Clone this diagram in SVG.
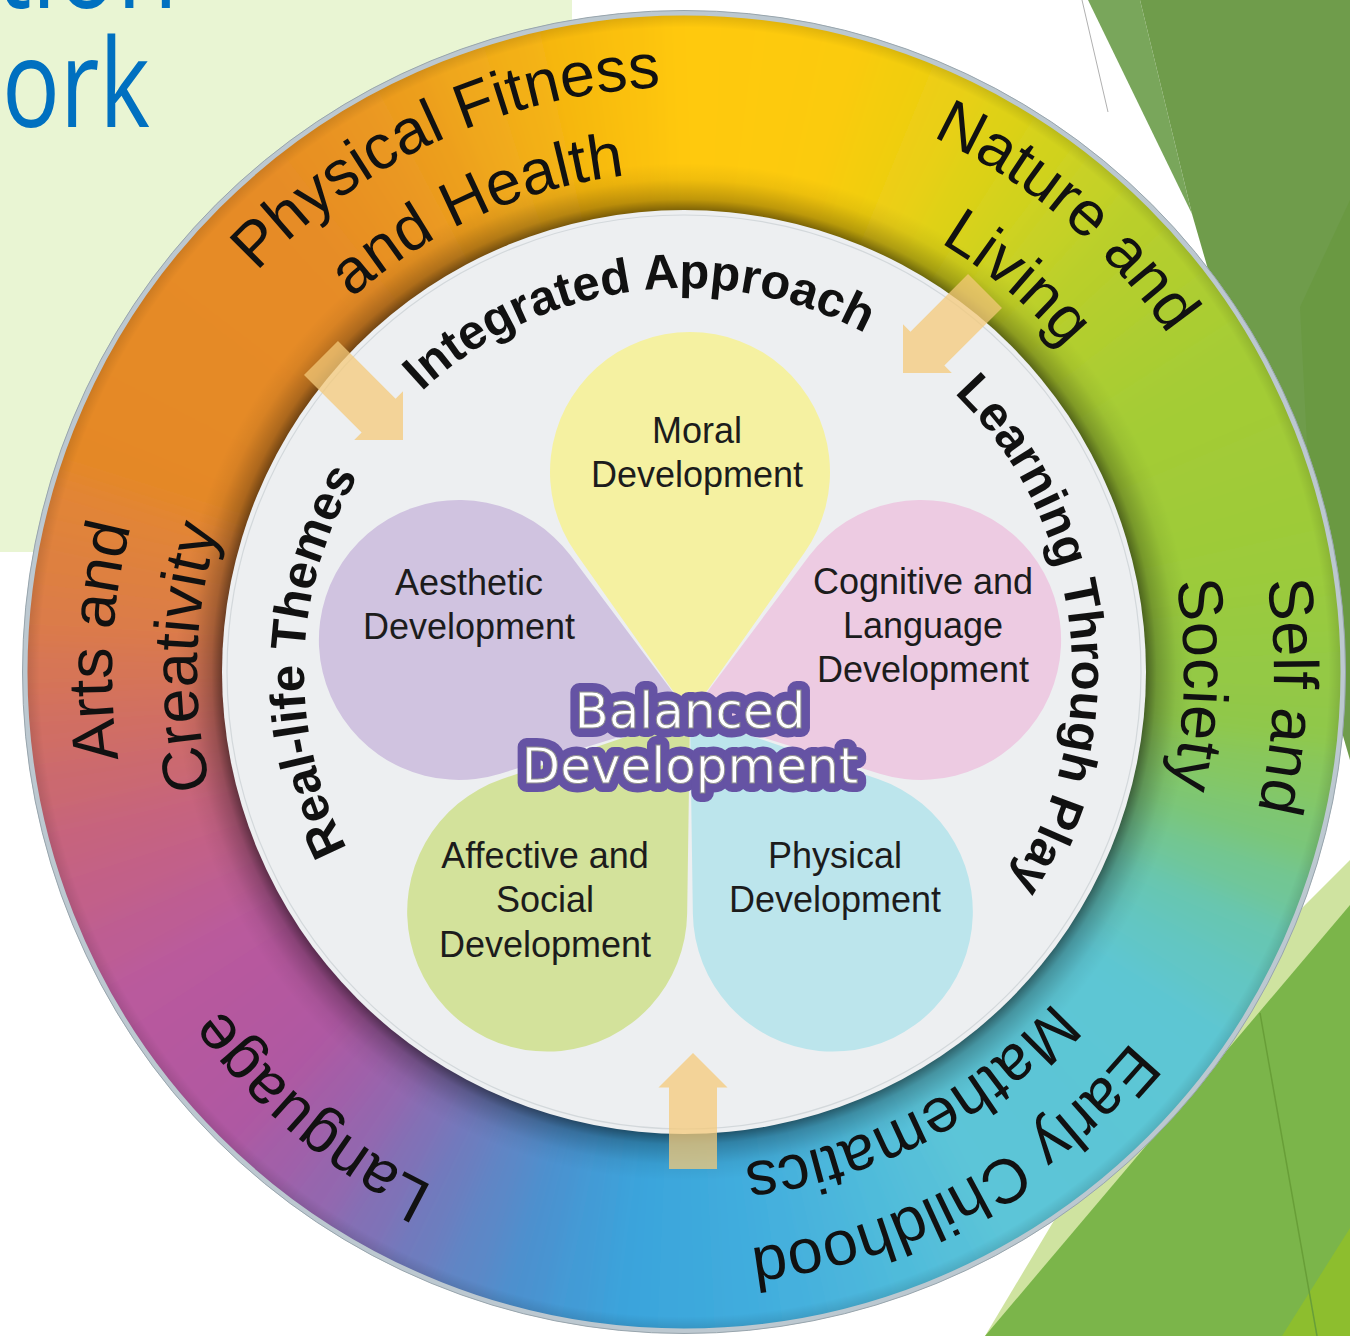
<svg xmlns="http://www.w3.org/2000/svg" xmlns:xlink="http://www.w3.org/1999/xlink" width="1350" height="1336" viewBox="0 0 1350 1336">
<style>
.ring{font-family:"Liberation Sans",Arial,sans-serif;font-size:63px;fill:#111}
.inner{font-family:"Liberation Sans",Arial,sans-serif;font-size:49px;font-weight:bold;fill:#111}
.pl{font-family:"Liberation Sans",Arial,sans-serif;font-size:36px;fill:#1c1c1c;text-anchor:middle}
.bd{font-family:"DejaVu Sans",sans-serif;font-size:50px;text-anchor:middle}
.arrow{fill:#F4CA7A;opacity:0.75}
</style>
<defs>
<path id="w" d="M0,0 L-33,-699.2 A700,700 0 0 1 33,-699.2 Z"/>
<path id="petal" d="M0,0 L-114.4,-162.3 A140,140 0 1 1 114.4,-162.3 Z"/>
<path id="arr" d="M0,0 L34.5,34.5 L24,34.5 L24,116 L-24,116 L-24,34.5 L-34.5,34.5 Z"/>
<filter id="bl" x="-10%" y="-10%" width="120%" height="120%"><feGaussianBlur stdDeviation="16"/></filter>
<clipPath id="cc"><circle cx="684" cy="672" r="661"/></clipPath>
<radialGradient id="rs" gradientUnits="userSpaceOnUse" cx="684" cy="672" r="661">
<stop offset="0.699" stop-color="#000" stop-opacity="0.5"/>
<stop offset="0.715" stop-color="#000" stop-opacity="0.25"/>
<stop offset="0.745" stop-color="#000" stop-opacity="0.06"/>
<stop offset="0.77" stop-color="#000" stop-opacity="0"/>
<stop offset="0.975" stop-color="#000" stop-opacity="0"/>
<stop offset="1" stop-color="#000" stop-opacity="0.15"/>
</radialGradient>
<path id="c590" d="M684,1262 A590,590 0 1 1 684,82 A590,590 0 1 1 684,1262"/>
<path id="c585" d="M684,1257 A585,585 0 1 1 684,87 A585,585 0 1 1 684,1257"/>
<path id="c580" d="M684,1252 A580,580 0 1 1 684,92 A580,580 0 1 1 684,1252"/>
<path id="c572" d="M684,1244 A572,572 0 1 1 684,100 A572,572 0 1 1 684,1244"/>
<path id="c500" d="M684,1172 A500,500 0 1 1 684,172 A500,500 0 1 1 684,1172"/>
<path id="c495" d="M684,1167 A495,495 0 1 1 684,177 A495,495 0 1 1 684,1167"/>
<path id="c487" d="M684,1159 A487,487 0 1 1 684,185 A487,487 0 1 1 684,1159"/>
<path id="c388" d="M684,1060 A388,388 0 1 1 684,284 A388,388 0 1 1 684,1060"/>
<path id="c384" d="M684,1056 A384,384 0 1 1 684,288 A384,384 0 1 1 684,1056"/>
<path id="c380" d="M684,1052 A380,380 0 1 1 684,292 A380,380 0 1 1 684,1052"/>
</defs>

<rect width="1350" height="1336" fill="#fff"/>

<g id="background">
<rect x="0" y="0" width="572" height="552" fill="#E9F5D3"/>
<text x="-4" y="8" font-family="Open Sans,Liberation Sans,sans-serif" font-size="122" fill="#0070C0" textLength="182" lengthAdjust="spacingAndGlyphs">tion</text>
<text x="2" y="127" font-family="Open Sans,Liberation Sans,sans-serif" font-size="122" fill="#0070C0" textLength="148" lengthAdjust="spacingAndGlyphs">ork</text>
<polygon points="1088,0 1140,0 1192,214" fill="#79A65B"/>
<polygon points="1140,0 1350,0 1350,760 1192,214" fill="#6F9C4B"/>
<polygon points="1300,307 1350,200 1350,700 1320,700" fill="#6A9942"/>
<line x1="1082" y1="0" x2="1108" y2="112" stroke="#B0B0B0" stroke-width="1"/>
<polygon points="1150,1060 1350,860 1350,1336 985,1336" fill="#CFE3A0"/>
<polygon points="985,1336 1350,905 1350,1336" fill="#7BB54A"/>
<polygon points="1282,1336 1350,1228 1350,1336" fill="#8DBE2E"/>
<line x1="1260" y1="1013" x2="1317" y2="1336" stroke="#689E38" stroke-width="1.5"/>
</g>

<g id="ring">
<g clip-path="url(#cc)">
<g transform="translate(684,672)" filter="url(#bl)">
<use href="#w" fill="#FFC90A"/>
<use href="#w" transform="rotate(5)" fill="#FEC90A"/>
<use href="#w" transform="rotate(10)" fill="#FDCA09"/>
<use href="#w" transform="rotate(15)" fill="#FBCB08"/>
<use href="#w" transform="rotate(20)" fill="#F3CD0D"/>
<use href="#w" transform="rotate(25)" fill="#EACF12"/>
<use href="#w" transform="rotate(30)" fill="#DED118"/>
<use href="#w" transform="rotate(35)" fill="#D2D21F"/>
<use href="#w" transform="rotate(40)" fill="#C6D125"/>
<use href="#w" transform="rotate(45)" fill="#B9CF2A"/>
<use href="#w" transform="rotate(50)" fill="#B2CE2E"/>
<use href="#w" transform="rotate(55)" fill="#ABCD31"/>
<use href="#w" transform="rotate(60)" fill="#A5CC35"/>
<use href="#w" transform="rotate(65)" fill="#A3CC36"/>
<use href="#w" transform="rotate(70)" fill="#A1CB37"/>
<use href="#w" transform="rotate(75)" fill="#9ECB39"/>
<use href="#w" transform="rotate(80)" fill="#9CCB3A"/>
<use href="#w" transform="rotate(85)" fill="#98CA3F"/>
<use href="#w" transform="rotate(90)" fill="#94C944"/>
<use href="#w" transform="rotate(95)" fill="#90C84A"/>
<use href="#w" transform="rotate(100)" fill="#86C760"/>
<use href="#w" transform="rotate(105)" fill="#7CC676"/>
<use href="#w" transform="rotate(110)" fill="#71C695"/>
<use href="#w" transform="rotate(115)" fill="#66C6B4"/>
<use href="#w" transform="rotate(120)" fill="#62C6C4"/>
<use href="#w" transform="rotate(125)" fill="#5DC6D3"/>
<use href="#w" transform="rotate(130)" fill="#5DC6D4"/>
<use href="#w" transform="rotate(135)" fill="#5CC6D5"/>
<use href="#w" transform="rotate(140)" fill="#5CC5D6"/>
<use href="#w" transform="rotate(145)" fill="#5BC5D7"/>
<use href="#w" transform="rotate(150)" fill="#5BC5D8"/>
<use href="#w" transform="rotate(155)" fill="#56C0D9"/>
<use href="#w" transform="rotate(160)" fill="#50BBDA"/>
<use href="#w" transform="rotate(165)" fill="#4BB5DC"/>
<use href="#w" transform="rotate(170)" fill="#45B0DD"/>
<use href="#w" transform="rotate(175)" fill="#41ACDD"/>
<use href="#w" transform="rotate(180)" fill="#3EA8DC"/>
<use href="#w" transform="rotate(185)" fill="#3AA4DC"/>
<use href="#w" transform="rotate(190)" fill="#439BD6"/>
<use href="#w" transform="rotate(195)" fill="#4C91CF"/>
<use href="#w" transform="rotate(200)" fill="#5D87C6"/>
<use href="#w" transform="rotate(205)" fill="#6E7CBE"/>
<use href="#w" transform="rotate(210)" fill="#8171B6"/>
<use href="#w" transform="rotate(215)" fill="#9466AE"/>
<use href="#w" transform="rotate(220)" fill="#A25FA8"/>
<use href="#w" transform="rotate(225)" fill="#AF58A2"/>
<use href="#w" transform="rotate(230)" fill="#B359A0"/>
<use href="#w" transform="rotate(235)" fill="#B6599E"/>
<use href="#w" transform="rotate(240)" fill="#B95A9D"/>
<use href="#w" transform="rotate(245)" fill="#BD5D93"/>
<use href="#w" transform="rotate(250)" fill="#C26188"/>
<use href="#w" transform="rotate(255)" fill="#C6647E"/>
<use href="#w" transform="rotate(260)" fill="#CB6970"/>
<use href="#w" transform="rotate(265)" fill="#D06E63"/>
<use href="#w" transform="rotate(270)" fill="#D67556"/>
<use href="#w" transform="rotate(275)" fill="#DB7C48"/>
<use href="#w" transform="rotate(280)" fill="#DE8040"/>
<use href="#w" transform="rotate(285)" fill="#E18437"/>
<use href="#w" transform="rotate(290)" fill="#E48828"/>
<use href="#w" transform="rotate(295)" fill="#E58927"/>
<use href="#w" transform="rotate(300)" fill="#E58A26"/>
<use href="#w" transform="rotate(305)" fill="#E58A26"/>
<use href="#w" transform="rotate(310)" fill="#E68B25"/>
<use href="#w" transform="rotate(315)" fill="#E68B25"/>
<use href="#w" transform="rotate(320)" fill="#E68C25"/>
<use href="#w" transform="rotate(325)" fill="#E89123"/>
<use href="#w" transform="rotate(330)" fill="#EA9720"/>
<use href="#w" transform="rotate(335)" fill="#EC9E1E"/>
<use href="#w" transform="rotate(340)" fill="#F0A81A"/>
<use href="#w" transform="rotate(345)" fill="#F3B016"/>
<use href="#w" transform="rotate(350)" fill="#F7B911"/>
<use href="#w" transform="rotate(355)" fill="#FBC10E"/>
</g>
</g>
<circle cx="684" cy="672" r="661" fill="url(#rs)"/>
<circle cx="684" cy="672" r="659" fill="none" stroke="#BCC8D0" stroke-width="5"/>
<circle cx="684" cy="672" r="661.5" fill="none" stroke="#98A5AD" stroke-width="1"/>
<circle cx="684" cy="672" r="462" fill="#EDEFF1"/>
<circle cx="684" cy="672" r="457" fill="none" stroke="#D3D8DB" stroke-width="1.2"/>
</g>

<g id="ring-labels" class="ring">
<text><textPath href="#c585" startOffset="43.17%" text-anchor="middle">Physical Fitness</textPath></text>
<text><textPath href="#c500" startOffset="43.28%" text-anchor="middle">and Health</textPath></text>
<text><textPath href="#c590" startOffset="61.11%" text-anchor="middle">Nature and</textPath></text>
<text><textPath href="#c500" startOffset="61.17%" text-anchor="middle">Living</textPath></text>
<text><textPath href="#c590" startOffset="75.64%" text-anchor="middle">Self and</textPath></text>
<text><textPath href="#c500" startOffset="75.39%" text-anchor="middle">Society</textPath></text>
<text><textPath href="#c580" startOffset="92.08%" text-anchor="middle">Early Childhood</textPath></text>
<text><textPath href="#c495" startOffset="92.33%" text-anchor="middle">Mathematics</textPath></text>
<text><textPath href="#c572" startOffset="11.11%" text-anchor="middle">Language</textPath></text>
<text><textPath href="#c572" startOffset="25.83%" text-anchor="middle">Arts and</textPath></text>
<text><textPath href="#c487" startOffset="25.47%" text-anchor="middle">Creativity</textPath></text>
</g>

<g id="approach-labels" class="inner">
<text><textPath href="#c384" startOffset="47.92%" text-anchor="middle">Integrated Approach</textPath></text>
<text><textPath href="#c388" startOffset="73.19%" text-anchor="middle">Learning Through Play</textPath></text>
<text><textPath href="#c380" startOffset="25.47%" text-anchor="middle">Real-life Themes</textPath></text>
</g>

<g id="connectors">
<use href="#arr" class="arrow" transform="translate(403,440) rotate(135)"/>
<use href="#arr" class="arrow" transform="translate(903,373) rotate(225)"/>
<use href="#arr" class="arrow" transform="translate(693,1053)"/>
</g>

<g id="petals">
<g id="moral"><use href="#petal" fill="#F5F1A1" transform="translate(690,715)"/></g>
<g id="affective"><use href="#petal" fill="#D3E29B" transform="translate(690,715) rotate(216)"/></g>
<g id="physical"><use href="#petal" fill="#BCE5EC" transform="translate(690,715) rotate(144)"/></g>
<g id="aesthetic"><use href="#petal" fill="#D0C3E0" transform="translate(690,715) rotate(288)"/></g>
<g id="cognitive"><use href="#petal" fill="#EDCBE2" transform="translate(690,715) rotate(72)"/></g>
</g>

<g id="petal-labels" class="pl">
<text x="697" y="443">Moral</text>
<text x="697" y="487">Development</text>
<text x="469" y="595">Aesthetic</text>
<text x="469" y="639">Development</text>
<text x="923" y="594">Cognitive and</text>
<text x="923" y="638">Language</text>
<text x="923" y="682">Development</text>
<text x="545" y="868">Affective and</text>
<text x="545" y="912">Social</text>
<text x="545" y="957">Development</text>
<text x="835" y="868">Physical</text>
<text x="835" y="912">Development</text>
</g>

<g id="balanced" class="bd">
<text x="690" y="728" fill="#6553A4" stroke="#6553A4" stroke-width="18" stroke-linejoin="round">Balanced</text>
<text x="690" y="783" fill="#6553A4" stroke="#6553A4" stroke-width="18" stroke-linejoin="round">Development</text>
<text x="690" y="728" fill="#fff" stroke="#8E8E8E" stroke-width="1">Balanced</text>
<text x="690" y="783" fill="#fff" stroke="#8E8E8E" stroke-width="1">Development</text>
</g>
</svg>
